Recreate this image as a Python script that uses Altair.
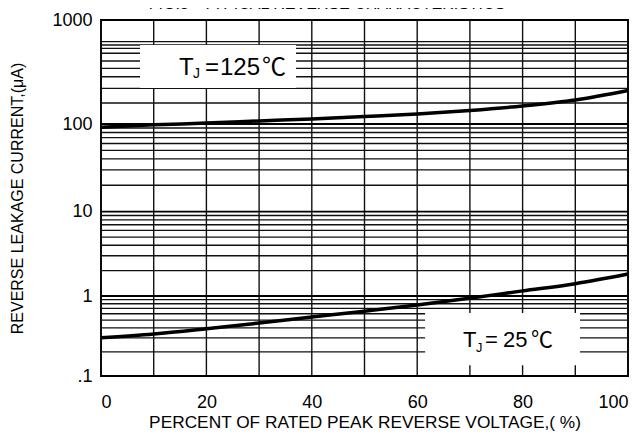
import altair as alt
import pandas as pd

# ---- data ----
pct = [0, 10, 20, 30, 40, 50, 60, 70, 80, 90, 100]
i_125 = [92, 98, 102, 107, 112, 118, 125, 135, 149, 170, 210]
i_25 = [0.30, 0.335, 0.39, 0.46, 0.545, 0.645, 0.77, 0.94, 1.15, 1.40, 1.82]

x_ticks = [0, 20, 40, 60, 80, 100]
y_ticks = [0.1, 1, 10, 100, 1000]
grid_x = [0, 10, 20, 30, 40, 50, 60, 70, 80, 90, 100]
grid_major = [0.1, 1, 10, 100, 1000]
grid_minor = [k * m for m in (0.1, 1, 10) for k in range(2, 10)] + [159, 220, 285, 343, 404, 479, 534, 575, 620]

# label boxes (x from, x to, y from, y to) in data units
box_x = [7.4, 61.5]
box_x2 = [37.0, 90.9]
box_y = [222, 0.136]
box_y2 = [574, 0.612]

TITLE = "FIG.3 - TYPICAL REVERSE CHARACTERISTICS"
FONT = "Liberation Sans"
W, H = 527, 356

x_scale = alt.Scale(domain=[0, 100], nice=False)
y_scale = alt.Scale(type="log", domain=[0.1, 1, 10, 100, 1000],
                    range=[356, 276, 191.7, 104, 0], nice=False)

x_axis = alt.Axis(values=x_ticks, grid=False, ticks=False, domain=False,
                  labelFontSize=18, labelFont=FONT, labelColor="black",
                  labelPadding=17, title="PERCENT OF RATED PEAK REVERSE VOLTAGE,( %)",
                  titleFont=FONT, titleFontSize=17.3, titleFontWeight="normal",
                  titleColor="black", titlePadding=2)
y_axis = alt.Axis(values=y_ticks, grid=False, ticks=False, domain=False,
                  labelFontSize=18, labelFont=FONT, labelColor="black",
                  labelPadding=9,
                  labelExpr="datum.value < 1 ? '.1' : format(datum.value, 'd')",
                  title="REVERSE LEAKAGE CURRENT,(μA)",
                  titleFont=FONT, titleFontSize=16, titleFontWeight="normal",
                  titleColor="black", titlePadding=26)


def X(field="x"):
    return alt.X(f"{field}:Q", scale=x_scale, axis=x_axis)


def Y(field="y"):
    return alt.Y(f"{field}:Q", scale=y_scale, axis=y_axis)


vgrid = alt.Chart(pd.DataFrame({"x": grid_x})).mark_rule(
    color="#111", strokeWidth=1.4).encode(x=X())
hminor = alt.Chart(pd.DataFrame({"y": grid_minor})).mark_rule(
    color="#111", strokeWidth=1.4).encode(y=Y())
hmajor = alt.Chart(pd.DataFrame({"y": grid_major})).mark_rule(
    color="#000", strokeWidth=1.8).encode(y=Y())

boxes = alt.Chart(pd.DataFrame({"x": box_x, "x2": box_x2, "y": box_y, "y2": box_y2})).mark_rect(
    color="white").encode(x=X(), x2="x2:Q", y=Y(), y2="y2:Q")

curve_df = pd.DataFrame({
    "x": pct + pct,
    "y": i_125 + i_25,
    "s": ["125"] * len(pct) + ["25"] * len(pct),
})
curves = alt.Chart(curve_df).mark_line(
    color="black", strokeWidth=3.5, interpolate="monotone").encode(
    x=X(), y=Y(), detail="s:N")

# annotation anchors (data units) for the two temperature labels
lab_x = [14.8, 68.7]
lab_y = [296, 0.229]


def label(i, size, sub_dy, offs):
    df = pd.DataFrame({"x": [lab_x[i]], "y": [lab_y[i]]})
    base = alt.Chart(df)
    parts = [
        base.mark_text(text="T", font=FONT, fontSize=size, align="left",
                       baseline="alphabetic", dx=offs[0], color="black"),
        base.mark_text(text="J", font=FONT, fontSize=size * 0.58, align="left",
                       baseline="alphabetic", dx=offs[1], dy=sub_dy, color="black"),
        base.mark_text(text="=", font=FONT, fontSize=size, align="left",
                       baseline="alphabetic", dx=offs[2], color="black"),
        base.mark_text(text=["125", "25"][i], font=FONT, fontSize=size, align="left",
                       baseline="alphabetic", dx=offs[3], color="black"),
        base.mark_text(text="℃", font="Noto Sans CJK SC", fontSize=size, align="left",
                       baseline="alphabetic", dx=offs[4], color="black"),
    ]
    return [p.encode(x=X(), y=Y()) for p in parts]


labels = label(0, 24, 3, [0, 14, 26, 41, 83]) + label(1, 22, 5, [0, 13, 22, 40, 68])

# figure caption, partly cut off by the top edge as in the reference
caption = alt.Chart(pd.DataFrame({"t": [TITLE]})).mark_text(
    font=FONT, fontSize=16, color="black", align="center", baseline="alphabetic"
).encode(text="t:N", x=alt.value(226), y=alt.value(-11))

chart = alt.layer(vgrid, hminor, hmajor, boxes, curves, *labels, caption).properties(
    width=W, height=H,
    autosize=alt.AutoSizeParams(type="none"),
    padding={"left": 93, "top": 12, "right": 6, "bottom": 55},
).configure_view(stroke="black", strokeWidth=2)

chart.save("out.html", embed_options={"renderer": "svg", "actions": False})
